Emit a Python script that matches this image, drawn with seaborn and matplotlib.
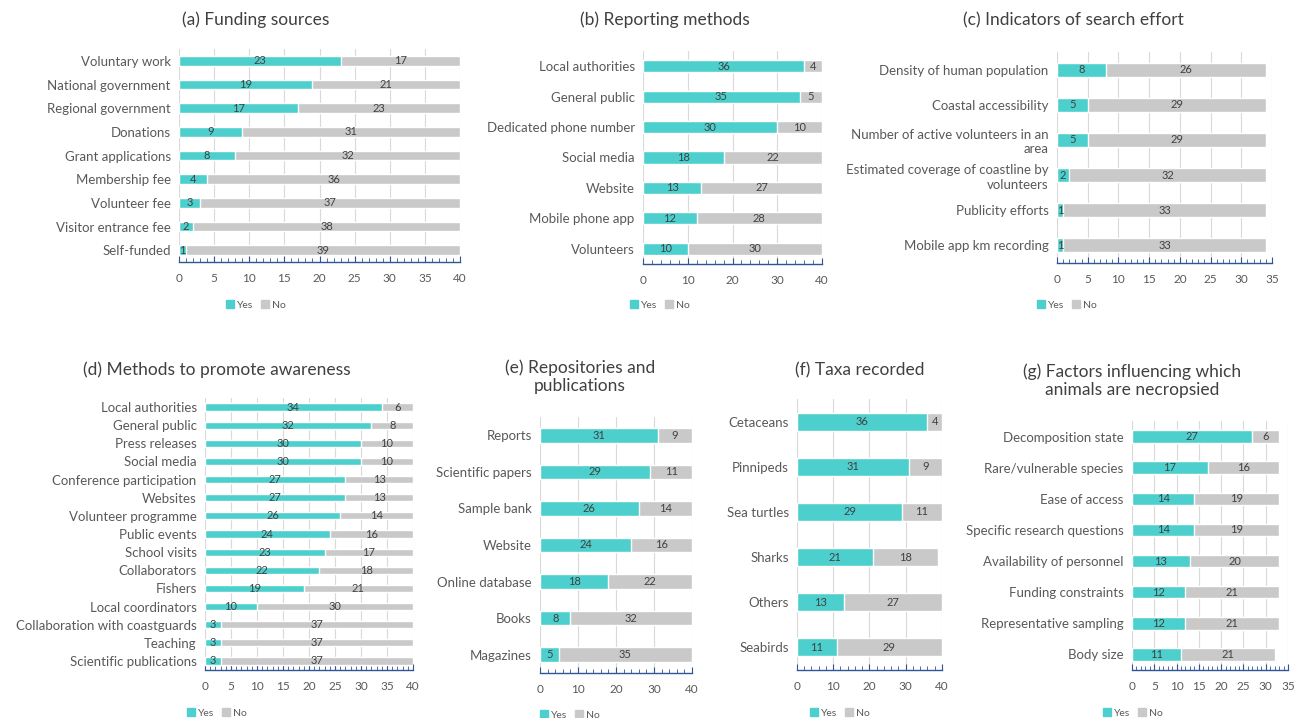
import matplotlib
matplotlib.use('Agg')
import matplotlib.pyplot as plt
import seaborn as sns
from matplotlib.patches import Patch
from matplotlib.ticker import MultipleLocator


a_cats = ['Voluntary work', 'National government', 'Regional government', 'Donations',
          'Grant applications', 'Membership fee', 'Volunteer fee', 'Visitor entrance fee',
          'Self-funded']
a_yes = [23, 19, 17, 9, 8, 4, 3, 2, 1]
a_no = [17, 21, 23, 31, 32, 36, 37, 38, 39]

b_cats = ['Local authorities', 'General public', 'Dedicated phone number', 'Social media',
          'Website', 'Mobile phone app', 'Volunteers']
b_yes = [36, 35, 30, 18, 13, 12, 10]
b_no = [4, 5, 10, 22, 27, 28, 30]

c_cats = ['Density of human population', 'Coastal accessibility',
          'Number of active volunteers in an\narea',
          'Estimated coverage of coastline by\nvolunteers',
          'Publicity efforts', 'Mobile app km recording']
c_yes = [8, 5, 5, 2, 1, 1]
c_no = [26, 29, 29, 32, 33, 33]

d_cats = ['Local authorities', 'General public', 'Press releases', 'Social media',
          'Conference participation', 'Websites', 'Volunteer programme', 'Public events',
          'School visits', 'Collaborators', 'Fishers', 'Local coordinators',
          'Collaboration with coastguards', 'Teaching', 'Scientific publications']
d_yes = [34, 32, 30, 30, 27, 27, 26, 24, 23, 22, 19, 10, 3, 3, 3]
d_no = [6, 8, 10, 10, 13, 13, 14, 16, 17, 18, 21, 30, 37, 37, 37]

e_cats = ['Reports', 'Scientific papers', 'Sample bank', 'Website', 'Online database',
          'Books', 'Magazines']
e_yes = [31, 29, 26, 24, 18, 8, 5]
e_no = [9, 11, 14, 16, 22, 32, 35]

f_cats = ['Cetaceans', 'Pinnipeds', 'Sea turtles', 'Sharks', 'Others', 'Seabirds']
f_yes = [36, 31, 29, 21, 13, 11]
f_no = [4, 9, 11, 18, 27, 29]

g_cats = ['Decomposition state', 'Rare/vulnerable species', 'Ease of access',
          'Specific research questions', 'Availability of personnel', 'Funding constraints',
          'Representative sampling', 'Body size']
g_yes = [27, 17, 14, 14, 13, 12, 12, 11]
g_no = [6, 16, 19, 19, 20, 21, 21, 21]

TEAL = '#4dd0cd'
GREY = '#c9c9c9'
TEXT = '#404040'
TICK = '#595959'
AXIS = '#2f5597'

W, H = 1295, 718

sns.set_theme(style='white')
plt.rcParams['font.family'] = ['Lato', 'DejaVu Sans']


def px_box(left, top, right, bottom):
    return [left / W, 1 - bottom / H, (right - left) / W, (bottom - top) / H]


def panel(fig, box, cats, yes, no, xmax, major, minor, title, title_xy, legend_xy):
    ax = fig.add_axes(px_box(*box))
    totals = [y + n for y, n in zip(yes, no)]
    sns.barplot(x=totals, y=cats, orient='h', color=GREY, width=0.4,
                saturation=1, ax=ax, zorder=2)
    sns.barplot(x=yes, y=cats, orient='h', color=TEAL, width=0.4,
                saturation=1, ax=ax, zorder=3)
    for i, (y, n) in enumerate(zip(yes, no)):
        ax.text(y / 2, i, str(y), ha='center', va='center', fontsize=8, color=TEXT, zorder=4)
        ax.text(y + n / 2, i, str(n), ha='center', va='center', fontsize=8, color=TEXT, zorder=4)
    ax.set_xlim(0, xmax)
    ax.set_ylim(len(cats) - 0.5, -0.5)
    ax.xaxis.set_major_locator(MultipleLocator(major))
    ax.xaxis.set_minor_locator(MultipleLocator(minor))
    ax.grid(axis='x', which='major', color='#d9d9d9', linewidth=0.8, zorder=0)
    ax.set_axisbelow(True)
    for s in ['top', 'right', 'left']:
        ax.spines[s].set_visible(False)
    ax.spines['bottom'].set_color(AXIS)
    ax.spines['bottom'].set_linewidth(1.0)
    ax.tick_params(axis='x', which='both', bottom=True, direction='in', colors=AXIS,
                   labelcolor=TICK, labelsize=8.5, pad=8)
    ax.tick_params(axis='x', which='major', length=4, width=0.8)
    ax.tick_params(axis='x', which='minor', length=3, width=0.6)
    ax.tick_params(axis='y', length=0, labelsize=9.5, labelcolor=TICK, pad=6)
    for lab in ax.get_yticklabels():
        lab.set_linespacing(1.25)
    ax.set_xlabel('')
    ax.set_ylabel('')
    fig.text(title_xy[0] / W, 1 - title_xy[1] / H, title, ha='center', va='center',
             fontsize=12.5, color=TEXT, linespacing=1.15)
    handles = [Patch(color=TEAL, label='Yes'), Patch(color=GREY, label='No')]
    fig.legend(handles=handles, loc='center', ncol=2, frameon=False,
               bbox_to_anchor=(legend_xy[0] / W, 1 - legend_xy[1] / H),
               fontsize=7.5, handlelength=0.7, handleheight=0.7,
               handletextpad=0.3, columnspacing=0.8, labelcolor=TICK)
    return ax


fig = plt.figure(figsize=(W / 100, H / 100), dpi=100)
fig.patch.set_facecolor('white')

panel(fig, (179, 49, 460, 262), a_cats, a_yes, a_no, 40, 5, 1,
      '(a) Funding sources', (256, 20), (256, 305))
panel(fig, (643, 51, 822, 264), b_cats, b_yes, b_no, 40, 10, 2,
      '(b) Reporting methods', (665, 20), (660, 305))
panel(fig, (1057, 52, 1272, 263), c_cats, c_yes, c_no, 35, 5, 1,
      '(c) Indicators of search effort', (1073, 20), (1067, 305))
panel(fig, (205, 398, 413, 670), d_cats, d_yes, d_no, 40, 5, 1,
      '(d) Methods to promote awareness', (217, 370), (217, 713))
panel(fig, (540, 417, 692, 673), e_cats, e_yes, e_no, 40, 10, 2,
      '(e) Repositories and\npublications', (580, 377), (570, 715))
panel(fig, (797, 399, 942, 670), f_cats, f_yes, f_no, 40, 10, 2,
      '(f) Taxa recorded', (860, 370), (840, 713))
panel(fig, (1132, 421, 1288, 670), g_cats, g_yes, g_no, 35, 5, 1,
      '(g) Factors influencing which\nanimals are necropsied', (1132, 381), (1133, 713))

fig.savefig('out.png', dpi=100, facecolor='white')
